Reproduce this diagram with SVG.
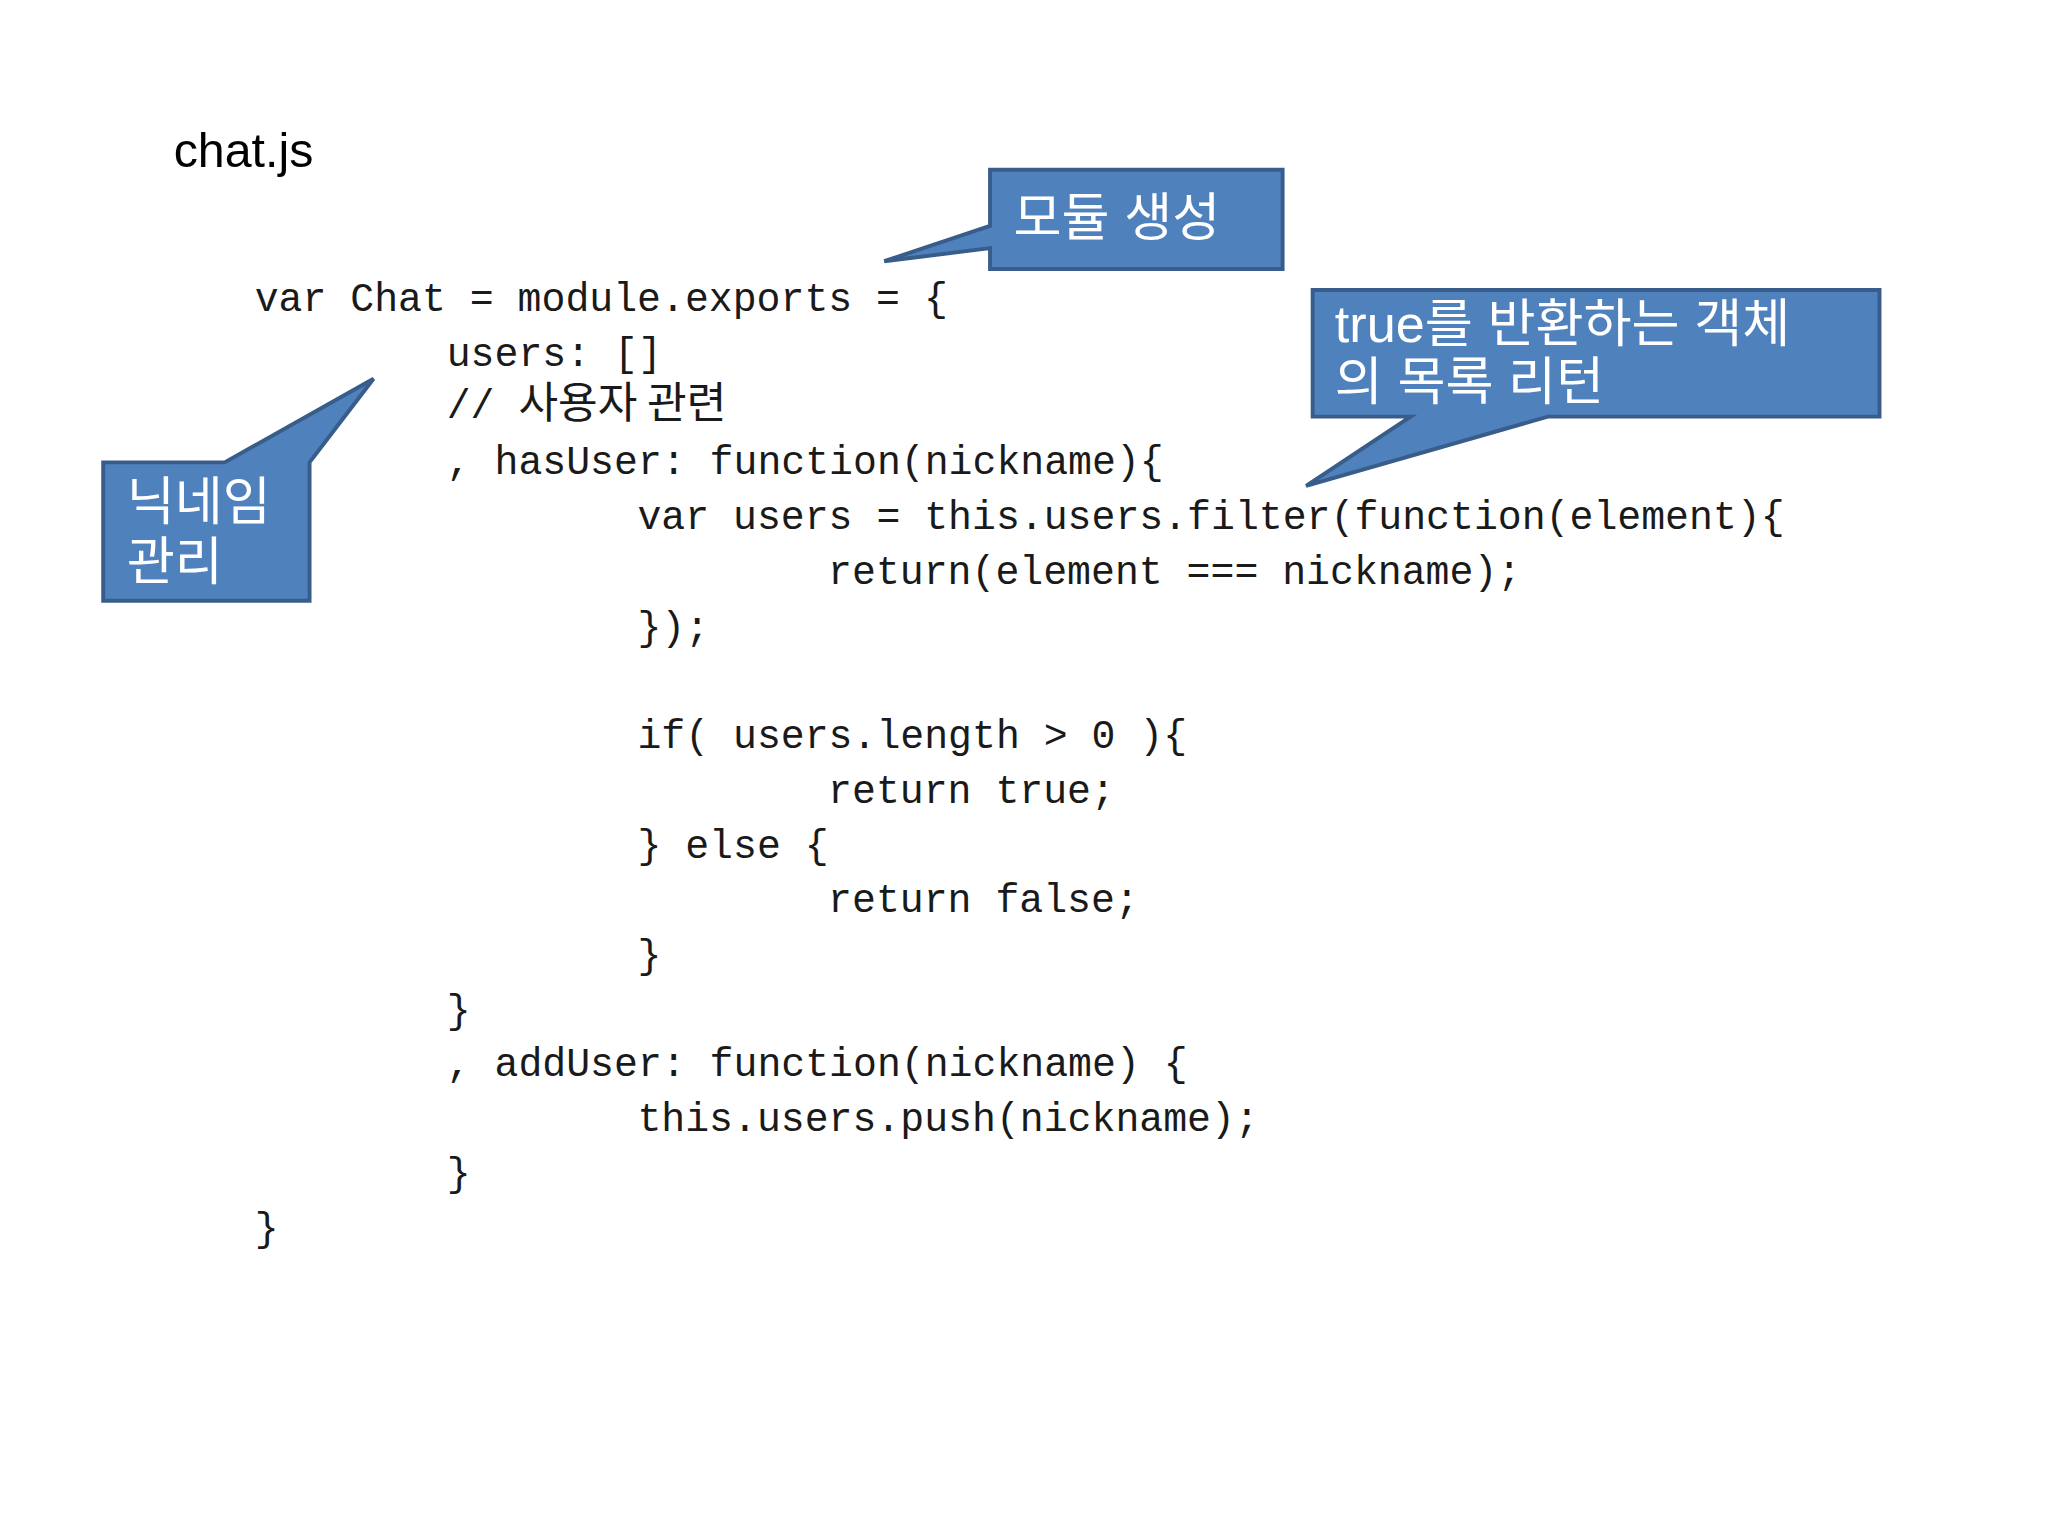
<svg xmlns="http://www.w3.org/2000/svg" width="2048" height="1536" viewBox="0 0 2048 1536">
<style>
.code{font-family:"Liberation Mono","DejaVu Sans Mono","Noto Sans CJK KR",monospace;font-size:30.5px;fill:#1a1a1a}
.kr{font-family:"Noto Sans CJK KR","Noto Sans",sans-serif;font-size:33px;fill:#1a1a1a}
.call{fill:#4f81bd;stroke:#385d8a;stroke-width:3}
.ct{font-family:"Liberation Sans","Noto Sans CJK KR",sans-serif;font-size:40px;fill:#fff}
</style>
<rect width="2048" height="1536" fill="#fff"/>
<g transform="scale(1.30612)">
<text x="133" y="128" font-family="Liberation Sans,Arial,sans-serif" font-size="37" fill="#000">chat.js</text>
<g id="code">
<text class="code" x="195" y="238">var Chat = module.exports = {</text>
<text class="code" x="342" y="280">users: []</text>
<text class="code" x="342" y="320">// <tspan class="kr">사용자 관련</tspan></text>
<text class="code" x="342" y="363">, hasUser: function(nickname){</text>
<text class="code" x="488" y="405">var users = this.users.filter(function(element){</text>
<text class="code" x="634" y="447">return(element === nickname);</text>
<text class="code" x="488" y="490">});</text>
<text class="code" x="488" y="573">if( users.length &gt; 0 ){</text>
<text class="code" x="634" y="615">return true;</text>
<text class="code" x="488" y="657">} else {</text>
<text class="code" x="634" y="698">return false;</text>
<text class="code" x="488" y="741">}</text>
<text class="code" x="342" y="783">}</text>
<text class="code" x="342" y="824">, addUser: function(nickname) {</text>
<text class="code" x="488" y="866">this.users.push(nickname);</text>
<text class="code" x="342" y="908">}</text>
<text class="code" x="195" y="950">}</text>
</g>
<g id="callout-module">
<path class="call" d="M758,130 H982 V206 H758 V190 L677,200 L758,173 Z"/>
<text class="ct" x="776" y="181">모듈 생성</text>
</g>
<g id="callout-true">
<path class="call" d="M1005,222 H1439 V319 H1185 L1000,372 L1080,319 H1005 Z"/>
<text class="ct" x="1022" y="262">true를 반환하는 객체</text>
<text class="ct" x="1022" y="306">의 목록 리턴</text>
</g>
<g id="callout-nick">
<path class="call" d="M79,354 H172 L286,290 L237,354 V460 H79 Z"/>
<text class="ct" x="97" y="398">닉네임</text>
<text class="ct" x="97" y="444">관리</text>
</g>
</g>
</svg>
